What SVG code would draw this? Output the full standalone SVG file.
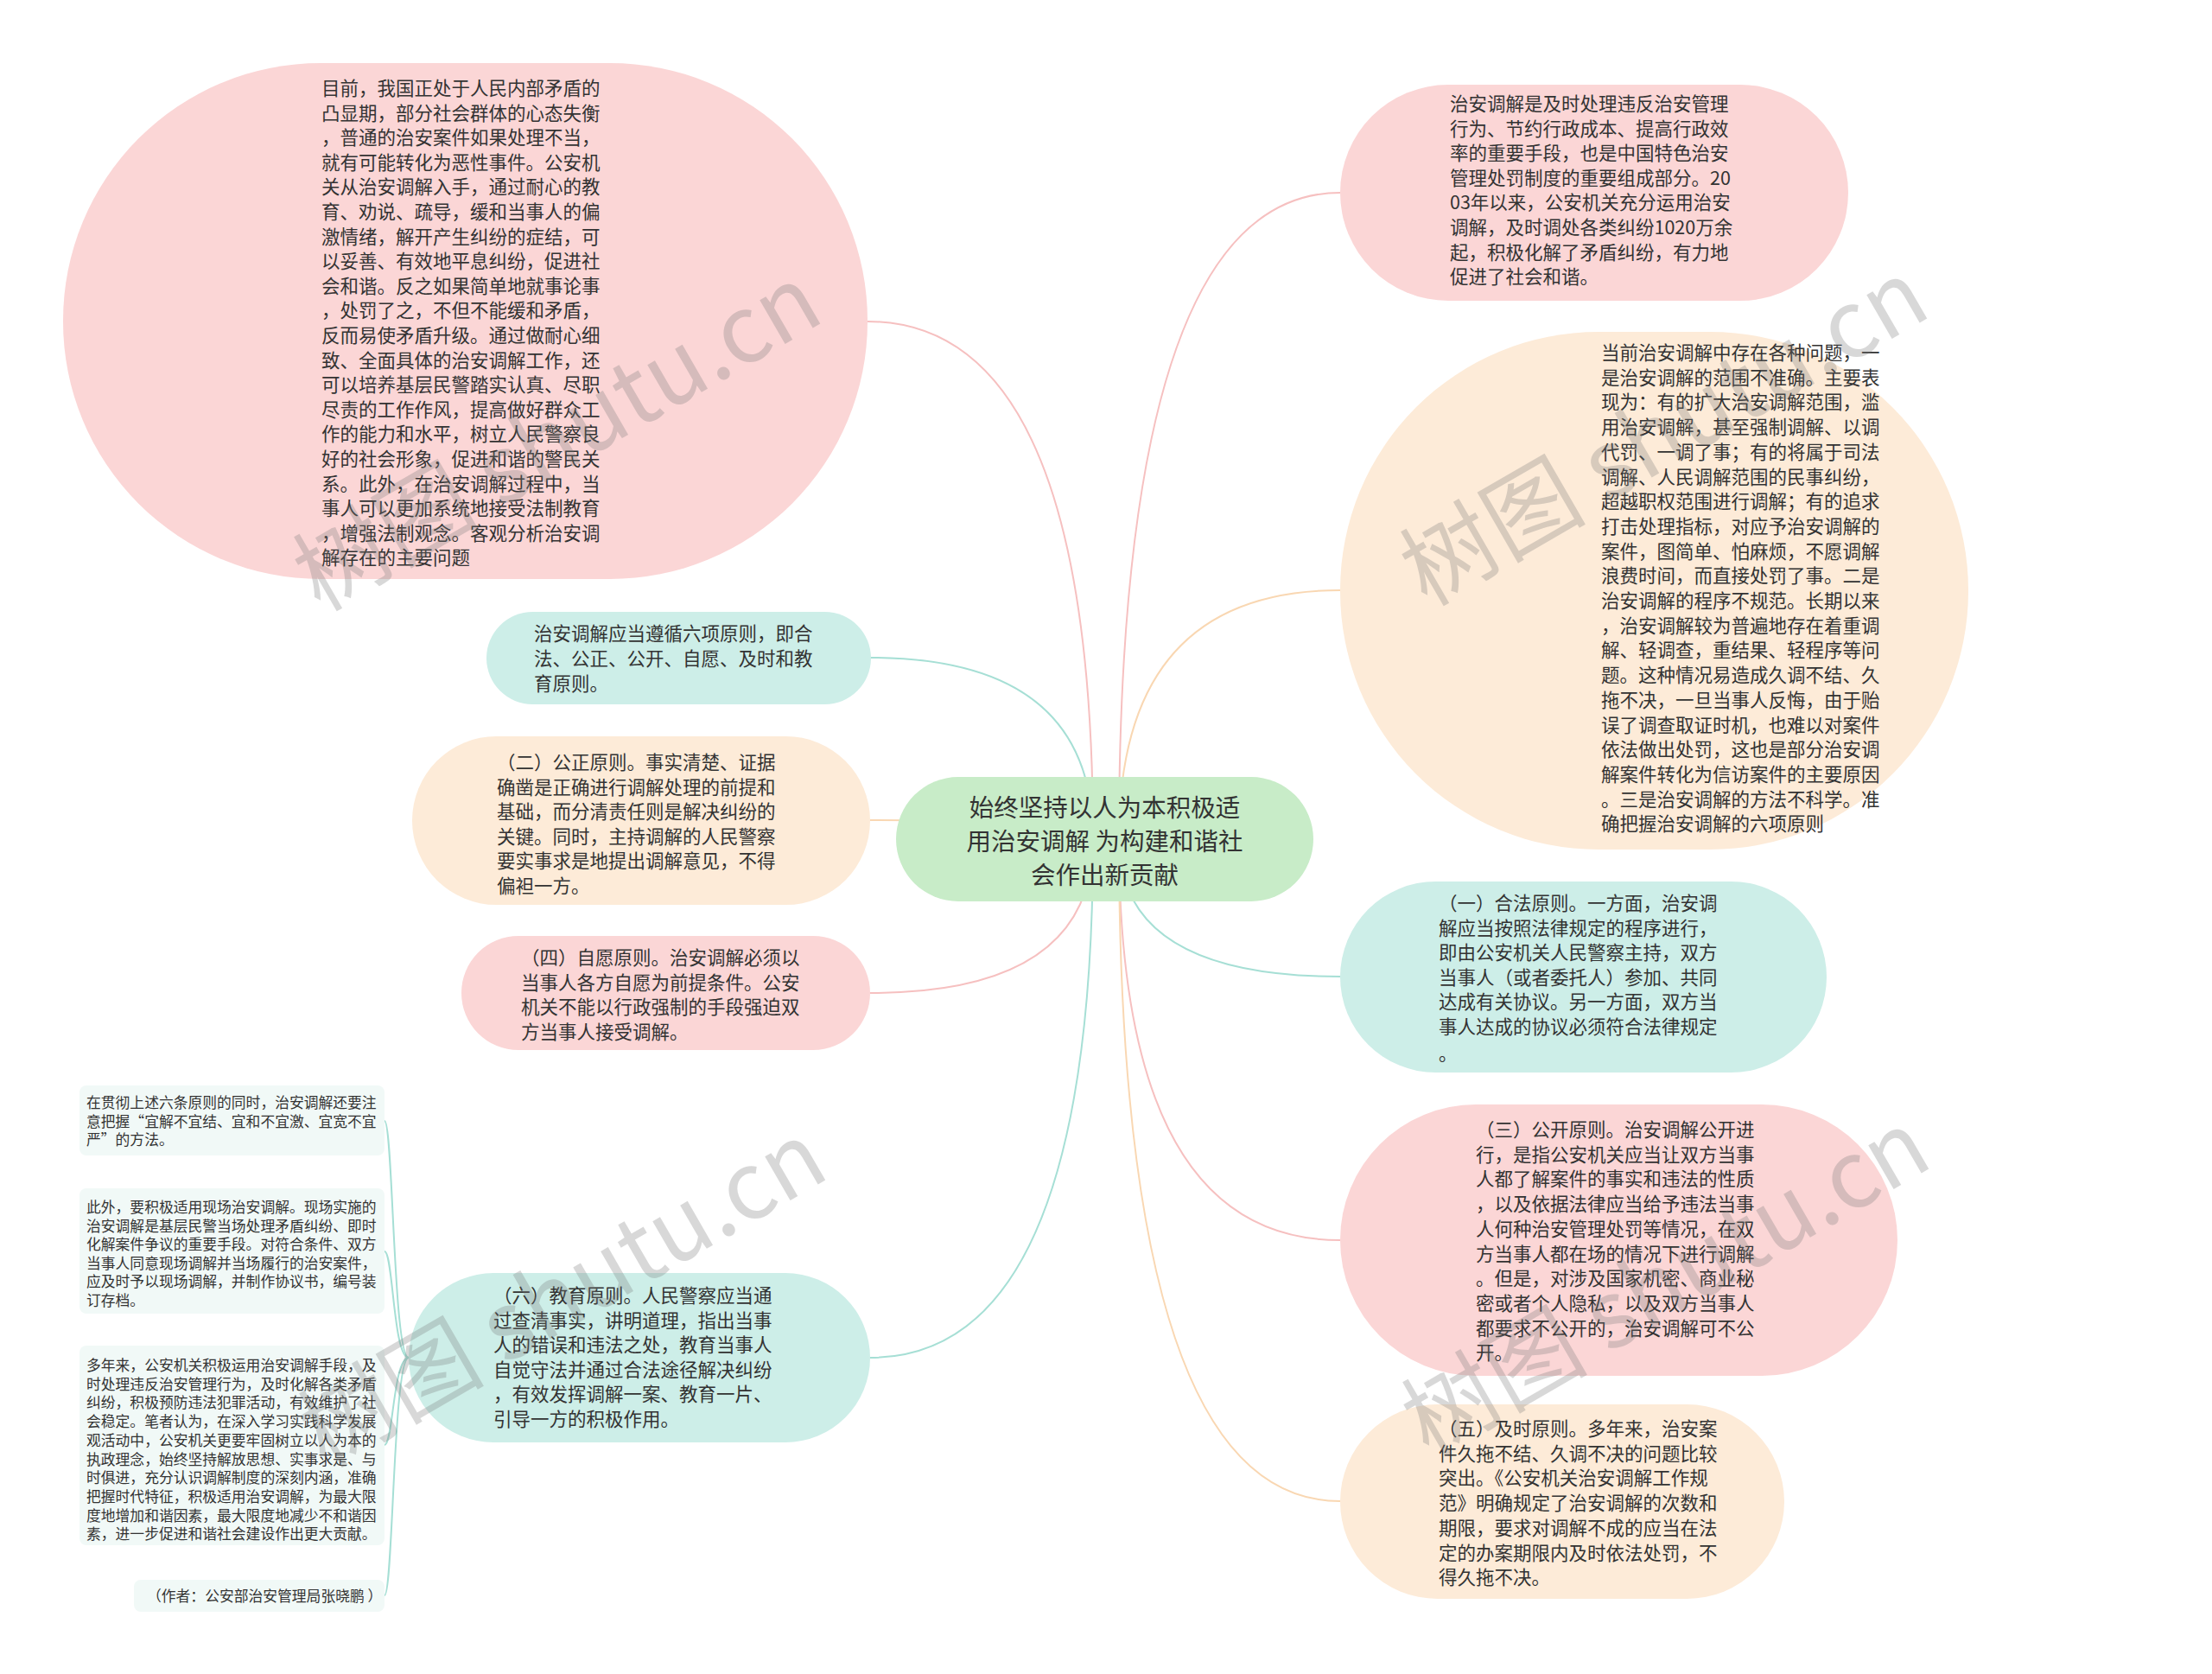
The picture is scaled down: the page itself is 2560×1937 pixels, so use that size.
<svg xmlns="http://www.w3.org/2000/svg" width="2560" height="1937" viewBox="0 0 2560 1937">
<style>
.t{font-family:"Noto Sans CJK SC","Noto Sans",sans-serif;font-size:21.5px;fill:#333}
.tc{font-family:"Noto Sans CJK SC","Noto Sans",sans-serif;font-size:28.5px;fill:#333;text-anchor:middle}
.ts{font-family:"Noto Sans CJK SC","Noto Sans",sans-serif;font-size:16.8px;fill:#333}
.pink{fill:#fbd6d6}
.peach{fill:#fdebd8}
.teal{fill:#cdeee8}
.green{fill:#c8ecc8}
.leaf{fill:#f1f9f7}
.c{fill:none;stroke-width:2}
.cp{stroke:#f6c0c0}
.co{stroke:#f9d7b2}
.ct{stroke:#a6dfd5}
.wm{font-family:"Noto Sans CJK SC","Liberation Serif",serif;font-size:108px;fill:#777;opacity:0.28;text-anchor:middle;dominant-baseline:middle}
</style>
<rect width="2560" height="1937" fill="#fff"/>
<g id="connectors">
<path class="c cp" d="M1265 971 Q1265 372 1004 372"/>
<path class="c ct" d="M1265 971 Q1265 761 1007 761"/>
<path class="c co" d="M1265 971 Q1265 949 1007 949"/>
<path class="c cp" d="M1265 971 Q1265 1149 1007 1149"/>
<path class="c ct" d="M1265 971 Q1265 1571 1007 1571"/>
<path class="c cp" d="M1295 971 Q1295 223 1551 223"/>
<path class="c co" d="M1295 971 Q1295 683 1551 683"/>
<path class="c ct" d="M1295 971 Q1295 1130 1551 1130"/>
<path class="c cp" d="M1295 971 Q1295 1435 1551 1435"/>
<path class="c co" d="M1295 971 Q1295 1737 1551 1737"/>
<path class="c ct" d="M473 1571 C455 1571 455 1297 445 1297"/>
<path class="c ct" d="M473 1571 C455 1571 455 1448 445 1448"/>
<path class="c ct" d="M473 1571 C455 1571 455 1672 445 1672"/>
<path class="c ct" d="M473 1571 C455 1571 455 1846 445 1846"/>
</g>
<g id="center">
<rect class="green" x="1037" y="899" width="483" height="144" rx="72"/>
<text class="tc" x="1278.5" y="945">始终坚持以人为本积极适</text>
<text class="tc" x="1278.5" y="984">用治安调解 为构建和谐社</text>
<text class="tc" x="1278.5" y="1023">会作出新贡献</text>
</g>
<g id="n-topleft">
<rect class="pink" x="73" y="73" width="931" height="597" rx="298"/>
<text class="t">
<tspan x="372" y="110">目前，我国正处于人民内部矛盾的</tspan>
<tspan x="372" y="138.6">凸显期，部分社会群体的心态失衡</tspan>
<tspan x="372" y="167.2">，普通的治安案件如果处理不当，</tspan>
<tspan x="372" y="195.8">就有可能转化为恶性事件。公安机</tspan>
<tspan x="372" y="224.4">关从治安调解入手，通过耐心的教</tspan>
<tspan x="372" y="253">育、劝说、疏导，缓和当事人的偏</tspan>
<tspan x="372" y="281.6">激情绪，解开产生纠纷的症结，可</tspan>
<tspan x="372" y="310.2">以妥善、有效地平息纠纷，促进社</tspan>
<tspan x="372" y="338.8">会和谐。反之如果简单地就事论事</tspan>
<tspan x="372" y="367.4">，处罚了之，不但不能缓和矛盾，</tspan>
<tspan x="372" y="396">反而易使矛盾升级。通过做耐心细</tspan>
<tspan x="372" y="424.6">致、全面具体的治安调解工作，还</tspan>
<tspan x="372" y="453.2">可以培养基层民警踏实认真、尽职</tspan>
<tspan x="372" y="481.8">尽责的工作作风，提高做好群众工</tspan>
<tspan x="372" y="510.4">作的能力和水平，树立人民警察良</tspan>
<tspan x="372" y="539">好的社会形象，促进和谐的警民关</tspan>
<tspan x="372" y="567.6">系。此外，在治安调解过程中，当</tspan>
<tspan x="372" y="596.2">事人可以更加系统地接受法制教育</tspan>
<tspan x="372" y="624.8">，增强法制观念。客观分析治安调</tspan>
<tspan x="372" y="653.4">解存在的主要问题</tspan>
</text>
</g>
<g id="n-principles">
<rect class="teal" x="563" y="708" width="445" height="107" rx="53.5"/>
<text class="t">
<tspan x="618" y="741">治安调解应当遵循六项原则，即合</tspan>
<tspan x="618" y="770">法、公正、公开、自愿、及时和教</tspan>
<tspan x="618" y="799">育原则。</tspan>
</text>
</g>
<g id="n-2">
<rect class="peach" x="477" y="852" width="530" height="195" rx="97.5"/>
<text class="t">
<tspan x="575" y="890">（二）公正原则。事实清楚、证据</tspan>
<tspan x="575" y="918.6">确凿是正确进行调解处理的前提和</tspan>
<tspan x="575" y="947.2">基础，而分清责任则是解决纠纷的</tspan>
<tspan x="575" y="975.8">关键。同时，主持调解的人民警察</tspan>
<tspan x="575" y="1004.4">要实事求是地提出调解意见，不得</tspan>
<tspan x="575" y="1033">偏袒一方。</tspan>
</text>
</g>
<g id="n-4">
<rect class="pink" x="534" y="1083" width="473" height="132" rx="66"/>
<text class="t">
<tspan x="603" y="1116">（四）自愿原则。治安调解必须以</tspan>
<tspan x="603" y="1144.6">当事人各方自愿为前提条件。公安</tspan>
<tspan x="603" y="1173.2">机关不能以行政强制的手段强迫双</tspan>
<tspan x="603" y="1201.8">方当事人接受调解。</tspan>
</text>
</g>
<g id="n-6">
<rect class="teal" x="473" y="1473" width="534" height="196" rx="98"/>
<text class="t">
<tspan x="571" y="1507">（六）教育原则。人民警察应当通</tspan>
<tspan x="571" y="1535.6">过查清事实，讲明道理，指出当事</tspan>
<tspan x="571" y="1564.2">人的错误和违法之处，教育当事人</tspan>
<tspan x="571" y="1592.8">自觉守法并通过合法途径解决纠纷</tspan>
<tspan x="571" y="1621.4">，有效发挥调解一案、教育一片、</tspan>
<tspan x="571" y="1650">引导一方的积极作用。</tspan>
</text>
</g>
<g id="n-topright">
<rect class="pink" x="1551" y="98" width="588" height="250" rx="125"/>
<text class="t">
<tspan x="1678" y="128">治安调解是及时处理违反治安管理</tspan>
<tspan x="1678" y="156.6">行为、节约行政成本、提高行政效</tspan>
<tspan x="1678" y="185.2">率的重要手段，也是中国特色治安</tspan>
<tspan x="1678" y="213.8">管理处罚制度的重要组成部分。20</tspan>
<tspan x="1678" y="242.4">03年以来，公安机关充分运用治安</tspan>
<tspan x="1678" y="271">调解，及时调处各类纠纷1020万余</tspan>
<tspan x="1678" y="299.6">起，积极化解了矛盾纠纷，有力地</tspan>
<tspan x="1678" y="328.2">促进了社会和谐。</tspan>
</text>
</g>
<g id="n-problems">
<rect class="peach" x="1551" y="384" width="727" height="599" rx="299"/>
<text class="t">
<tspan x="1853" y="416">当前治安调解中存在各种问题，一</tspan>
<tspan x="1853" y="444.7">是治安调解的范围不准确。主要表</tspan>
<tspan x="1853" y="473.4">现为：有的扩大治安调解范围，滥</tspan>
<tspan x="1853" y="502.1">用治安调解，甚至强制调解、以调</tspan>
<tspan x="1853" y="530.8">代罚、一调了事；有的将属于司法</tspan>
<tspan x="1853" y="559.5">调解、人民调解范围的民事纠纷，</tspan>
<tspan x="1853" y="588.2">超越职权范围进行调解；有的追求</tspan>
<tspan x="1853" y="616.9">打击处理指标，对应予治安调解的</tspan>
<tspan x="1853" y="645.6">案件，图简单、怕麻烦，不愿调解</tspan>
<tspan x="1853" y="674.3">浪费时间，而直接处罚了事。二是</tspan>
<tspan x="1853" y="703">治安调解的程序不规范。长期以来</tspan>
<tspan x="1853" y="731.7">，治安调解较为普遍地存在着重调</tspan>
<tspan x="1853" y="760.4">解、轻调查，重结果、轻程序等问</tspan>
<tspan x="1853" y="789.1">题。这种情况易造成久调不结、久</tspan>
<tspan x="1853" y="817.8">拖不决，一旦当事人反悔，由于贻</tspan>
<tspan x="1853" y="846.5">误了调查取证时机，也难以对案件</tspan>
<tspan x="1853" y="875.2">依法做出处罚，这也是部分治安调</tspan>
<tspan x="1853" y="903.9">解案件转化为信访案件的主要原因</tspan>
<tspan x="1853" y="932.6">。三是治安调解的方法不科学。准</tspan>
<tspan x="1853" y="961.3">确把握治安调解的六项原则</tspan>
</text>
</g>
<g id="n-1">
<rect class="teal" x="1551" y="1020" width="563" height="221" rx="110.5"/>
<text class="t">
<tspan x="1665" y="1053">（一）合法原则。一方面，治安调</tspan>
<tspan x="1665" y="1081.6">解应当按照法律规定的程序进行，</tspan>
<tspan x="1665" y="1110.2">即由公安机关人民警察主持，双方</tspan>
<tspan x="1665" y="1138.8">当事人（或者委托人）参加、共同</tspan>
<tspan x="1665" y="1167.4">达成有关协议。另一方面，双方当</tspan>
<tspan x="1665" y="1196">事人达成的协议必须符合法律规定</tspan>
<tspan x="1665" y="1227">。</tspan>
</text>
</g>
<g id="n-3">
<rect class="pink" x="1551" y="1278" width="645" height="314" rx="157"/>
<text class="t">
<tspan x="1708" y="1315">（三）公开原则。治安调解公开进</tspan>
<tspan x="1708" y="1343.7">行，是指公安机关应当让双方当事</tspan>
<tspan x="1708" y="1372.4">人都了解案件的事实和违法的性质</tspan>
<tspan x="1708" y="1401.1">，以及依据法律应当给予违法当事</tspan>
<tspan x="1708" y="1429.8">人何种治安管理处罚等情况，在双</tspan>
<tspan x="1708" y="1458.5">方当事人都在场的情况下进行调解</tspan>
<tspan x="1708" y="1487.2">。但是，对涉及国家机密、商业秘</tspan>
<tspan x="1708" y="1515.9">密或者个人隐私，以及双方当事人</tspan>
<tspan x="1708" y="1544.6">都要求不公开的，治安调解可不公</tspan>
<tspan x="1708" y="1573.3">开。</tspan>
</text>
</g>
<g id="n-5">
<rect class="peach" x="1551" y="1625" width="514" height="225" rx="112.5"/>
<text class="t">
<tspan x="1665" y="1661">（五）及时原则。多年来，治安案</tspan>
<tspan x="1665" y="1689.7">件久拖不结、久调不决的问题比较</tspan>
<tspan x="1665" y="1718.4">突出。《公安机关治安调解工作规</tspan>
<tspan x="1665" y="1747.1">范》明确规定了治安调解的次数和</tspan>
<tspan x="1665" y="1775.8">期限，要求对调解不成的应当在法</tspan>
<tspan x="1665" y="1804.5">定的办案期限内及时依法处罚，不</tspan>
<tspan x="1665" y="1833.2">得久拖不决。</tspan>
</text>
</g>
<g id="leaf-1">
<rect class="leaf" x="92" y="1256" width="353" height="81" rx="8"/>
<text class="ts">
<tspan x="100" y="1282">在贯彻上述六条原则的同时，治安调解还要注</tspan>
<tspan x="100" y="1303.5">意把握“宜解不宜结、宜和不宜激、宜宽不宜</tspan>
<tspan x="100" y="1325">严”的方法。</tspan>
</text>
</g>
<g id="leaf-2">
<rect class="leaf" x="92" y="1375" width="353" height="145" rx="8"/>
<text class="ts">
<tspan x="100" y="1403">此外，要积极适用现场治安调解。现场实施的</tspan>
<tspan x="100" y="1424.5">治安调解是基层民警当场处理矛盾纠纷、即时</tspan>
<tspan x="100" y="1446">化解案件争议的重要手段。对符合条件、双方</tspan>
<tspan x="100" y="1467.5">当事人同意现场调解并当场履行的治安案件，</tspan>
<tspan x="100" y="1489">应及时予以现场调解，并制作协议书，编号装</tspan>
<tspan x="100" y="1510.5">订存档。</tspan>
</text>
</g>
<g id="leaf-3">
<rect class="leaf" x="92" y="1557" width="353" height="231" rx="8"/>
<text class="ts">
<tspan x="100" y="1586">多年来，公安机关积极运用治安调解手段，及</tspan>
<tspan x="100" y="1607.7">时处理违反治安管理行为，及时化解各类矛盾</tspan>
<tspan x="100" y="1629.4">纠纷，积极预防违法犯罪活动，有效维护了社</tspan>
<tspan x="100" y="1651.1">会稳定。笔者认为，在深入学习实践科学发展</tspan>
<tspan x="100" y="1672.8">观活动中，公安机关更要牢固树立以人为本的</tspan>
<tspan x="100" y="1694.5">执政理念，始终坚持解放思想、实事求是、与</tspan>
<tspan x="100" y="1716.2">时俱进，充分认识调解制度的深刻内涵，准确</tspan>
<tspan x="100" y="1737.9">把握时代特征，积极适用治安调解，为最大限</tspan>
<tspan x="100" y="1759.6">度地增加和谐因素，最大限度地减少不和谐因</tspan>
<tspan x="100" y="1781.3">素，进一步促进和谐社会建设作出更大贡献。</tspan>
</text>
</g>
<g id="leaf-4">
<rect class="leaf" x="155" y="1828" width="290" height="37" rx="8"/>
<text class="ts" x="170" y="1853">（作者：公安部治安管理局张晓鹏 ）</text>
</g>
<g id="watermarks">
<text class="wm" transform="translate(649 514) rotate(-30)">树图 shutu.cn</text>
<text class="wm" transform="translate(1930 508) rotate(-30)">树图 shutu.cn</text>
<text class="wm" transform="translate(655 1505) rotate(-30)">树图 shutu.cn</text>
<text class="wm" transform="translate(1932 1492) rotate(-30)">树图 shutu.cn</text>
</g>
</svg>
